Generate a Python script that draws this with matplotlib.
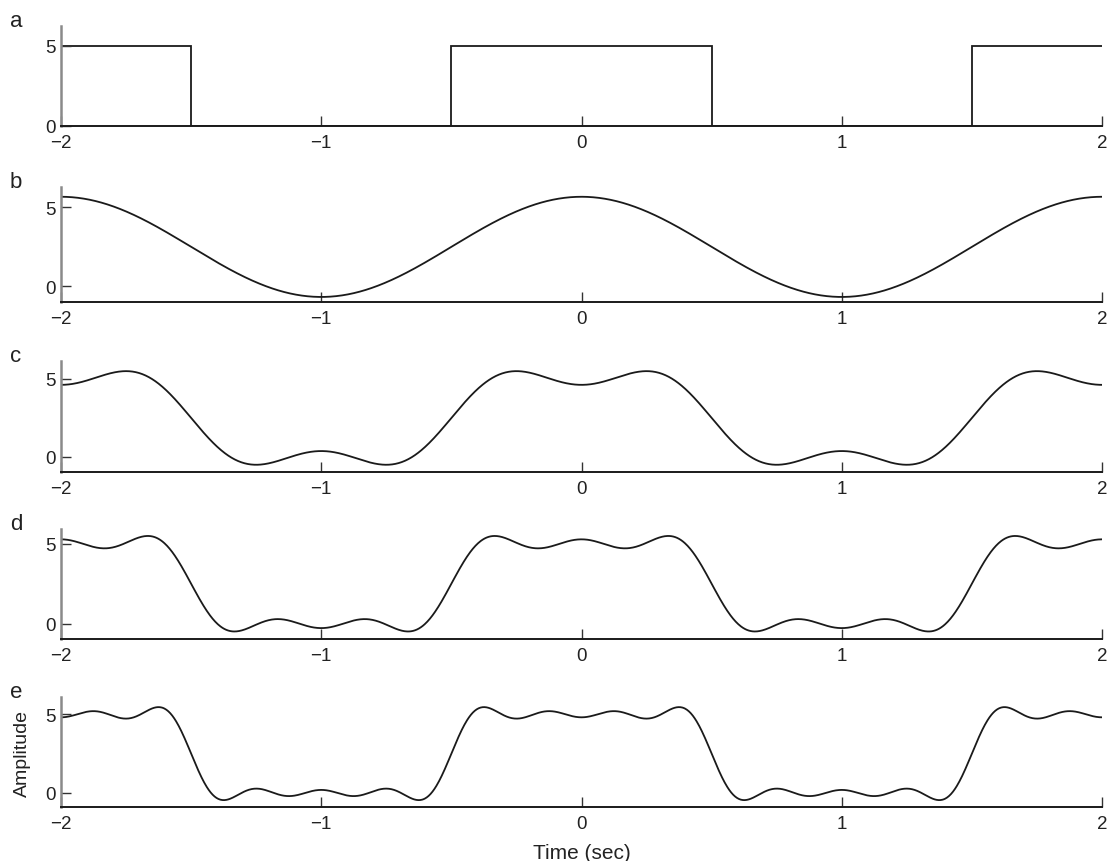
import numpy as np
import matplotlib.pyplot as plt

plt.rcParams['font.family'] = ['Liberation Sans', 'DejaVu Sans']

# square wave: 5 V for |t| < 0.5 s, repeating every 2 s
square_edges = [-2.0, -1.5, -0.5, 0.5, 1.5, 2.0]
square_levels = [5, 0, 5, 0, 5]

# Fourier series of that wave: mean level plus odd cosine harmonics
mean_level = 2.5
harmonics = [1, 3, 5, 7]
harmonic_amps = [3.18, -1.06, 0.64, -0.45]
period = 2.0

panel_letters = ['a', 'b', 'c', 'd', 'e']
x_ticks = [-2, -1, 0, 1, 2]
y_ticks = [0, 5]
y_limits = [(0, 6.25), (-1.0, 6.3), (-0.96, 6.15), (-0.94, 5.9), (-0.9, 6.1)]

# axes boxes [left, bottom, width, height] in figure fractions
boxes = [
    [0.055, 0.8527, 0.9387, 0.1160],
    [0.055, 0.6485, 0.9387, 0.1334],
    [0.055, 0.4513, 0.9387, 0.1288],
    [0.055, 0.2575, 0.9387, 0.1276],
    [0.055, 0.0626, 0.9387, 0.1276],
]

fig = plt.figure(figsize=(11.09, 8.62), dpi=100)

t = np.linspace(-2, 2, 1601)

axes = []
for i, box in enumerate(boxes):
    ax = fig.add_axes(box)
    axes.append(ax)

    if i == 0:
        ax.stairs(square_levels, square_edges, baseline=None,
                  color='#1a1a1a', lw=1.3)
    else:
        # partial sum using the first i harmonics
        y = np.full_like(t, mean_level)
        for k, a in zip(harmonics[:i], harmonic_amps[:i]):
            y += a * np.cos(2 * np.pi * k * t / period)
        ax.plot(t, y, color='#1a1a1a', lw=1.3)

    ax.set_xlim(-2, 2)
    ax.set_ylim(*y_limits[i])
    ax.set_xticks(x_ticks)
    ax.set_yticks(y_ticks)
    ax.spines['top'].set_visible(False)
    ax.spines['right'].set_visible(False)
    ax.spines['left'].set_color('#8a8a8a')
    ax.spines['left'].set_linewidth(1.8)
    ax.spines['bottom'].set_color('#1a1a1a')
    ax.spines['bottom'].set_linewidth(1.4)
    ax.tick_params(direction='in', length=7, width=1, colors='#333333',
                   labelcolor='#222222', labelsize=13.5)
    ax.tick_params(axis='x', pad=6)
    ax.tick_params(axis='y', pad=4)

    ax.text(-0.049, 1.0, panel_letters[i], transform=ax.transAxes,
            fontsize=16, color='#222222', va='baseline', ha='left')

axes[-1].set_ylabel('Amplitude', fontsize=14, color='#222222')
axes[-1].yaxis.set_label_coords(-0.029, 0.5)
axes[-1].set_xlabel('Time (sec)', fontsize=15, color='#222222', va='top')
axes[-1].xaxis.set_label_coords(0.5, -0.33)

fig.savefig('out.png', dpi=100)
